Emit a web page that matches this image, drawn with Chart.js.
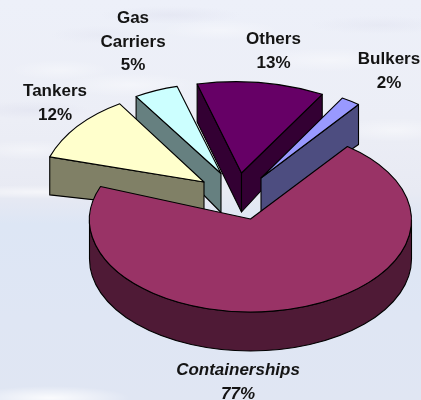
<!DOCTYPE html>
<html>
<head>
<meta charset="utf-8">
<script src="https://cdn.jsdelivr.net/npm/chart.js@4"></script>
<style>
  html, body { margin: 0; padding: 0; width: 421px; height: 400px; overflow: hidden; }
  body {
    background:
      radial-gradient(ellipse 80px 12px at 50px 398px, rgba(255,255,255,.85), rgba(255,255,255,0)),
      radial-gradient(ellipse 110px 7px at 40px 192px, rgba(255,255,255,.55), rgba(255,255,255,0)),
      radial-gradient(ellipse 60px 10px at 30px 150px, rgba(255,255,255,.4), rgba(255,255,255,0)),
      radial-gradient(ellipse 70px 12px at 130px 85px, rgba(255,255,255,.4), rgba(255,255,255,0)),
      radial-gradient(ellipse 50px 10px at 60px 70px, rgba(255,255,255,.35), rgba(255,255,255,0)),
      radial-gradient(ellipse 80px 12px at 330px 60px, rgba(255,255,255,.4), rgba(255,255,255,0)),
      radial-gradient(ellipse 60px 10px at 220px 30px, rgba(255,255,255,.35), rgba(255,255,255,0)),
      radial-gradient(ellipse 60px 12px at 395px 130px, rgba(255,255,255,.45), rgba(255,255,255,0)),
      radial-gradient(ellipse 60px 9px at 30px 110px, rgba(222,224,238,.5), rgba(222,224,238,0)),
      radial-gradient(ellipse 70px 9px at 170px 15px, rgba(222,224,238,.5), rgba(222,224,238,0)),
      radial-gradient(ellipse 70px 9px at 380px 25px, rgba(222,224,238,.4), rgba(222,224,238,0)),
      radial-gradient(ellipse 50px 9px at 100px 35px, rgba(225,227,240,.4), rgba(225,227,240,0)),
      linear-gradient(180deg, #edf0f9 0%, #eceef6 30%, #e8eaf3 48%, #e4e8f3 51%, #dde6f5 56%, #dfe6f4 80%, #e0e6f3 100%);
  }
  canvas { display: block; }
</style>
</head>
<body>
<canvas id="chart" width="421" height="400"></canvas>
<script>
const categories = ["Containerships", "Tankers", "Gas Carriers", "Others", "Bulkers"];
const shares = [77, 12, 5, 13, 2];
const topColors = ["#993366", "#ffffcc", "#ccffff", "#660066", "#9999ff"];
const wallColors = ["#4f1a36", "#808066", "#668080", "#330033", "#4d4d80"];

// Exploded apex of each slice, relative to the pie centre.
const apexShiftX = [0, -46.5, -29.5, -9, 10.5];
const apexShiftY = [-1, -38, -46.5, -47, -42];
// Rim ellipse of each slice: centre relative to the pie centre, then radii.
const rimShiftX = [0, -54.5, -40.1, -15.8, 5.7];
const rimShiftY = [0, -25.3, -36, -47.2, -35.7];
const rimRadiusX = [161, 157, 153, 173, 170];
const rimRadiusY = [92, 104, 100, 91, 100];
// Wall heights narrow with perspective, so they differ at apex and at each rim corner.
const apexDepth = [39, 30, 39, 39, 34];
const startRimDepth = [39, 38, 30, 38, 39];
const endRimDepth = [39, 30, 30, 30, 40];
const paintOrder = [2, 1, 3, 4, 0];

// Label text lines, anchor centre and first line centre.
const labelLines = [["Containerships", "77%"], ["Tankers", "12%"], ["Gas", "Carriers", "5%"], ["Others", "13%"], ["Bulkers", "2%"]];
const labelX = [238, 55, 133, 273.5, 389];
const labelY = [370.5, 91.5, 18.5, 39.5, 59.5];
const labelLeading = 23.5;

function extrudedPie(ctx, arc, i) {
  const ax = arc.x + apexShiftX[i], ay = arc.y + apexShiftY[i];
  const cx = arc.x + rimShiftX[i], cy = arc.y + rimShiftY[i];
  const rx = rimRadiusX[i], ry = rimRadiusY[i];
  const a0 = arc.startAngle, a1 = arc.endAngle;
  const rim = a => [cx + rx * Math.cos(a), cy + ry * Math.sin(a)];
  const paint = fill => {
    ctx.fillStyle = fill;
    ctx.fill();
    ctx.stroke();
  };

  ctx.strokeStyle = "#000";
  ctx.lineWidth = 1.1;
  ctx.lineJoin = "round";

  // Outer wall, only where the rim faces the viewer.
  const lo = Math.max(a0, 0), hi = Math.min(a1, Math.PI);
  if (hi > lo) {
    ctx.beginPath();
    ctx.ellipse(cx, cy, rx, ry, 0, lo, hi);
    ctx.ellipse(cx, cy + startRimDepth[i], rx, ry, 0, hi, lo, true);
    ctx.closePath();
    paint(wallColors[i]);
  }

  // Cut faces that turn toward the viewer.
  if (a1 - a0 < Math.PI) {
    [[a0, a0 - Math.PI / 2, startRimDepth[i]], [a1, a1 + Math.PI / 2, endRimDepth[i]]].forEach(([edge, normal, depth]) => {
      if (Math.sin(normal) > 0) {
        const [ex, ey] = rim(edge);
        ctx.beginPath();
        ctx.moveTo(ax, ay);
        ctx.lineTo(ex, ey);
        ctx.lineTo(ex, ey + depth);
        ctx.lineTo(ax, ay + apexDepth[i]);
        ctx.closePath();
        paint(wallColors[i]);
      }
    });
  }

  // Top face.
  ctx.beginPath();
  ctx.moveTo(ax, ay);
  ctx.ellipse(cx, cy, rx, ry, 0, a0, a1);
  ctx.closePath();
  paint(topColors[i]);
}

const tiltedPie = {
  id: "tiltedPie",
  beforeDatasetDraw(chart) {
    const arcs = chart.getDatasetMeta(0).data;
    const ctx = chart.ctx;
    ctx.save();
    paintOrder.forEach(i => extrudedPie(ctx, arcs[i], i));
    ctx.restore();
    return false;
  },
  afterDraw(chart) {
    const ctx = chart.ctx;
    ctx.save();
    ctx.fillStyle = "#141414";
    ctx.textAlign = "center";
    ctx.textBaseline = "middle";
    labelLines.forEach((lines, i) => {
      ctx.font = (i === 0 ? "italic " : "") + 'bold 17px "Liberation Sans", Arial, sans-serif';
      lines.forEach((line, n) => ctx.fillText(line, labelX[i], labelY[i] + n * labelLeading));
    });
    ctx.restore();
  }
};

new Chart(document.getElementById("chart"), {
  type: "pie",
  data: {
    labels: categories,
    datasets: [{ data: shares, backgroundColor: topColors, borderWidth: 0 }]
  },
  options: {
    responsive: false,
    animation: false,
    devicePixelRatio: 1,
    rotation: 37,
    layout: { padding: { left: 89.5, right: 9.5, top: 59, bottom: 19 } },
    plugins: { legend: { display: false }, tooltip: { enabled: false } }
  },
  plugins: [tiltedPie]
});
</script>
</body>
</html>
